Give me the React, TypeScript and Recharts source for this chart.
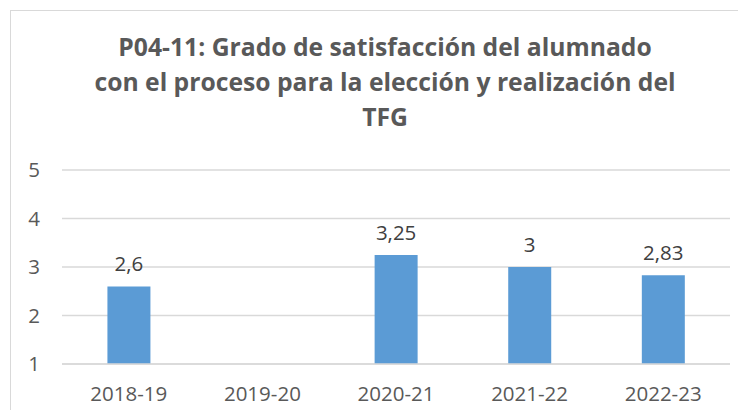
import React from 'react'
import { BarChart, Bar, XAxis, YAxis, CartesianGrid, LabelList } from 'recharts'

const cursos = ['2018-19', '2019-20', '2020-21', '2021-22', '2022-23']
const satisfaccion: (number | null)[] = [2.6, null, 3.25, 3, 2.83]
const yTicks = [1, 2, 3, 4, 5]
const tituloLineas = [
    'P04-11: Grado de satisfacción del alumnado',
    'con el proceso para la elección y realización del',
    'TFG',
]

const data = cursos.map((c, i) => ({ curso: c, valor: satisfaccion[i] }))

const fuente = '"Open Sans", Lato, sans-serif'

const formatoComa = (v: any) => (v == null ? '' : String(v).replace('.', ','))

const App: React.FC = () => {
    return (
        <div style={{ position: 'relative', margin: -8, width: 746, height: 418, overflow: 'hidden', background: '#fff' }}>
            <style>{`body{overflow:hidden}`}</style>
            <div
                style={{
                    position: 'absolute',
                    left: 10,
                    top: 10,
                    width: 750,
                    height: 420,
                    border: '1px solid #d9d9d9',
                    boxSizing: 'border-box',
                }}
            />
            <div
                style={{
                    position: 'absolute',
                    left: 0,
                    top: 29,
                    width: 770,
                    textAlign: 'center',
                    fontFamily: fuente,
                    fontWeight: 700,
                    fontSize: 24.7,
                    lineHeight: '35px',
                    color: '#595959',
                    whiteSpace: 'nowrap',
                }}
            >
                {tituloLineas.map(l => (
                    <div key={l}>{l}</div>
                ))}
            </div>
            <div style={{ position: 'absolute', left: 0, top: 0 }}>
                <BarChart
                    width={746}
                    height={418}
                    data={data}
                    margin={{ top: 170, right: 16, left: 0, bottom: 0 }}
                    barCategoryGap="34%"
                >
                    <CartesianGrid vertical={false} stroke="#d9d9d9" strokeWidth={1.5} />
                    <XAxis
                        dataKey="curso"
                        height={54}
                        tickLine={false}
                        tickSize={0}
                        tickMargin={22}
                        axisLine={{ stroke: '#d9d9d9', strokeWidth: 1.5 }}
                        tick={{ fill: '#595959', fontSize: 20.5, fontFamily: fuente }}
                    />
                    <YAxis
                        width={62}
                        domain={[1, 5]}
                        ticks={yTicks}
                        axisLine={false}
                        tickLine={false}
                        tickSize={0}
                        tickMargin={22}
                        tick={{ fill: '#595959', fontSize: 20.5, fontFamily: fuente }}
                    />
                    <Bar dataKey="valor" fill="#5b9bd5" isAnimationActive={false}>
                        <LabelList
                            dataKey="valor"
                            position="top"
                            offset={15}
                            formatter={formatoComa}
                            style={{ fill: '#404040', fontSize: 20.5, fontFamily: fuente }}
                        />
                    </Bar>
                </BarChart>
            </div>
        </div>
    )
}

export default App
